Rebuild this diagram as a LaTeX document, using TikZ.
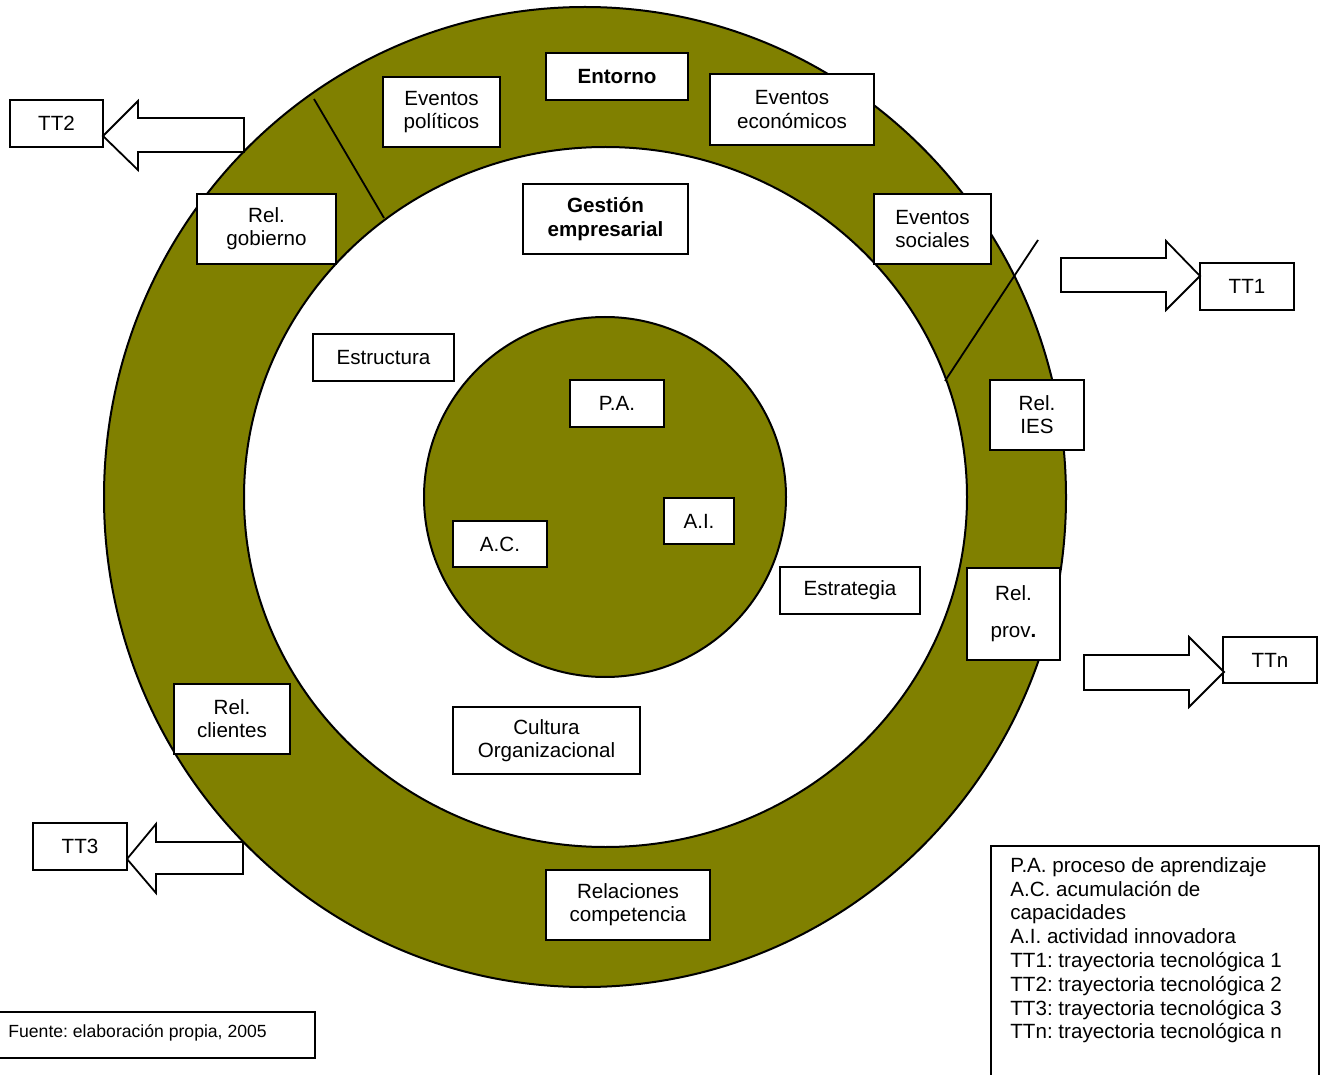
\documentclass[tikz,border=0pt]{standalone}
\usepackage{fontspec}
\setmainfont{Liberation Sans}
\frenchspacing
\definecolor{olive}{HTML}{808000}
\newcommand\bx[6]{\node[box, minimum width={(#4-#2)*0.5pt}, minimum height={(#5-#3)*0.5pt}] (#1) at ({(#2+#4)/2},{(#3+#5)/2}) {#6};}
\begin{document}
\begin{tikzpicture}[x=0.5pt,y=-0.5pt,
  box/.style={draw=black, fill=white, line width=0.9pt, inner sep=0pt, align=center, font=\fontsize{10.3}{11.6}\selectfont},
  ring/.style={draw=black, line width=1pt},
  blockarrow/.style={draw=black, fill=white, line width=0.9pt, line join=miter},
  divider/.style={draw=black, line width=0.9pt}]
\useasboundingbox (0,0) rectangle (1329,1075);
\begin{scope}
\clip (0,0) rectangle (1329,1075);
% rings
\draw[ring, fill=olive] (585,497) ellipse [x radius=481, y radius=490];
\draw[ring, fill=white] (605.5,497) ellipse [x radius=361.5, y radius=350];
\draw[ring, fill=olive] (605,497) ellipse [x radius=181, y radius=180];
% dividers
\coordinate (d1a) at (314,99);
\coordinate (d1b) at (384,218);
\coordinate (d2a) at (1038,240);
\coordinate (d2b) at (945,381);
\draw[divider] (d1a) -- (d1b);
\draw[divider] (d2a) -- (d2b);
% boxes
\bx{entorno}{546}{53}{688}{100}{\textbf{Entorno}}
\bx{epol}{383}{77}{500}{147}{Eventos\\políticos}
\bx{eeco}{710}{74}{874}{145}{Eventos\\económicos}
\bx{gest}{523}{184}{688}{254}{\textbf{Gestión}\\\textbf{empresarial}}
\bx{esoc}{874}{194}{991}{264}{Eventos\\sociales}
\bx{rgob}{197}{194}{336}{264}{Rel.\\gobierno}
\bx{estr}{313}{334}{454}{381}{Estructura}
\bx{pa}{570}{380}{664}{427}{P.A.}
\bx{ai}{664}{498}{734}{544}{A.I.}
\bx{ac}{453}{521}{547}{567}{A.C.}
\bx{estg}{780}{567}{920}{614}{Estrategia}
\bx{ries}{990}{380}{1084}{450}{Rel.\\IES}
\bx{rprov}{967}{568}{1060}{660}{Rel.\\[7pt]prov\textbf{.}}
\bx{rcli}{174}{684}{290}{754}{Rel.\\clientes}
\bx{cult}{453}{707}{640}{774}{Cultura\\Organizacional}
\bx{rcomp}{546}{870}{710}{940}{Relaciones\\competencia}
\bx{tt2}{10}{100}{103}{147}{TT2}
\bx{tt1}{1200}{263}{1294}{310}{TT1}
\bx{ttn}{1223}{637}{1317}{683}{TTn}
\bx{tt3}{33}{823}{127}{870}{TT3}
% block arrows
\draw[blockarrow] (103,136) -- (138,101) -- (138,118) -- (244,118) -- (244,152) -- (138,152) -- (138,170) -- cycle;
\draw[blockarrow] (1200,276) -- (1166,241) -- (1166,258) -- (1061,258) -- (1061,292) -- (1166,292) -- (1166,310) -- cycle;
\draw[blockarrow] (1224,672) -- (1189,637) -- (1189,655) -- (1084,655) -- (1084,690) -- (1189,690) -- (1189,707) -- cycle;
\draw[blockarrow] (127,859) -- (156,824) -- (156,842) -- (243,842) -- (243,874) -- (156,874) -- (156,893) -- cycle;
% legend
\node[draw=black, line width=0.9pt, fill=white, inner sep=0pt, minimum width={328*0.5pt}, minimum height={240*0.5pt}, anchor=north west] (legend) at (990,845) {};
\node[anchor=north west, inner sep=0pt, align=left, font=\fontsize{10.3}{11.9}\selectfont] (legendtext) at (1010,857) {P.A. proceso de aprendizaje\\A.C. acumulación de\\capacidades\\A.I. actividad innovadora\\TT1: trayectoria tecnológica 1\\TT2: trayectoria tecnológica 2\\TT3: trayectoria tecnológica 3\\TTn: trayectoria tecnológica n};
% source
\node[draw=black, line width=0.9pt, fill=white, inner sep=0pt, minimum width={320*0.5pt}, minimum height={46*0.5pt}, anchor=north west] (fuente) at (-6,1011) {};
\node[anchor=west, inner sep=0pt, font=\fontsize{8.8}{10}\selectfont] (fuentetext) at (8,1033) {Fuente: elaboración propia, 2005};
\end{scope}
\end{tikzpicture}
\end{document}
